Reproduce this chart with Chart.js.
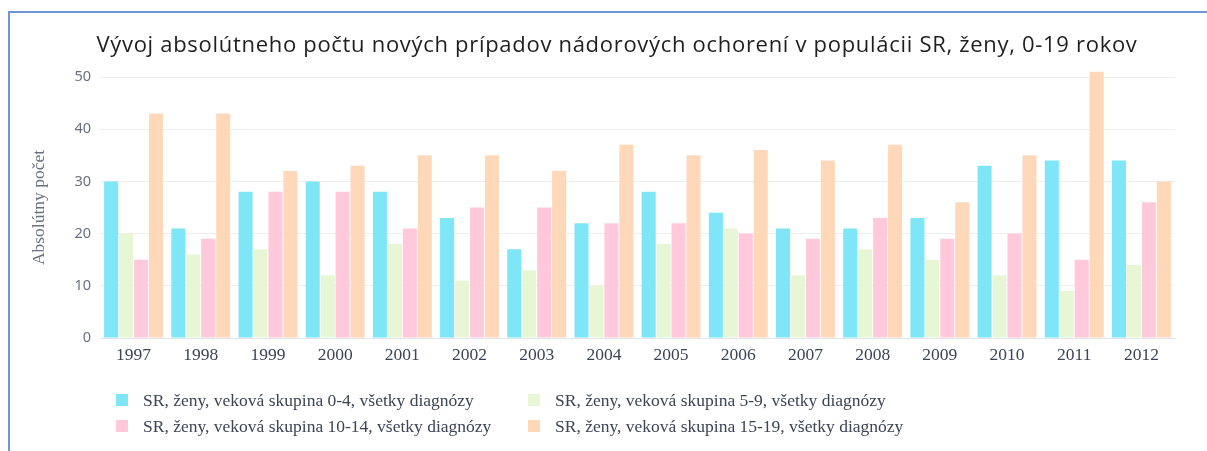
<!DOCTYPE html>
<html>
<head>
<meta charset="utf-8">
<script src="https://cdn.jsdelivr.net/npm/chart.js@4.4.1/dist/chart.umd.min.js"></script>
<style>
  html, body { margin: 0; padding: 0; background: #fff; }
  #wrap { position: relative; width: 1207px; height: 451px; overflow: hidden; }
  #frameTop { position: absolute; left: 8px; top: 11px; width: 1199px; height: 2px; background: #7196d8; }
  #frameLeft { position: absolute; left: 8px; top: 11px; width: 2px; height: 440px; background: #7196d8; }
  #title { position: absolute; left: 0; width: 1234px; top: 27px; text-align: center;
           font-family: "Open Sans", sans-serif; font-size: 22px; letter-spacing: 0.7px; color: #1f1f1f; line-height: 32px; white-space: nowrap; }
  #chart { position: absolute; left: 0; top: 0; }
  #legend { position: absolute; left: 0; top: 0; width: 1207px; height: 451px; pointer-events: none;
            font-family: "Liberation Serif", "Times New Roman", serif; font-size: 17.5px; color: #3c4456; }
  .li { position: absolute; white-space: nowrap; line-height: 20px; }
  .li .box { position: absolute; width: 12px; height: 12px; left: -27px; top: 4px; }
</style>
</head>
<body>
<div id="wrap">
  <canvas id="chart" width="1207" height="451"></canvas>
  <div id="title">Vývoj absolútneho počtu nových prípadov nádorových ochorení v populácii SR, ženy, 0-19 rokov</div>
  <div id="legend"></div>
  <div id="frameTop"></div>
  <div id="frameLeft"></div>
</div>
<script>
const years = ["1997","1998","1999","2000","2001","2002","2003","2004","2005","2006","2007","2008","2009","2010","2011","2012"];
const seriesNames = [
  "SR, ženy, veková skupina 0-4, všetky diagnózy",
  "SR, ženy, veková skupina 5-9, všetky diagnózy",
  "SR, ženy, veková skupina 10-14, všetky diagnózy",
  "SR, ženy, veková skupina 15-19, všetky diagnózy"
];
const age0_4   = [30, 21, 28, 30, 28, 23, 17, 22, 28, 24, 21, 21, 23, 33, 34, 34];
const age5_9   = [20, 16, 17, 12, 18, 11, 13, 10, 18, 21, 12, 17, 15, 12,  9, 14];
const age10_14 = [15, 19, 28, 28, 21, 25, 25, 22, 22, 20, 19, 23, 19, 20, 15, 26];
const age15_19 = [43, 43, 32, 33, 35, 35, 32, 37, 35, 36, 34, 37, 26, 35, 51, 30];
const yTicks = [0, 10, 20, 30, 40, 50];
const yTitle = "Absolútny počet";
const colors = ["#7ee6f7", "#e7f7d6", "#ffc9db", "#ffd8ba"];

const seriesValues = [age0_4, age5_9, age10_14, age15_19];
const datasets = seriesValues.map((vals, i) => ({
  label: seriesNames[i],
  data: vals,
  backgroundColor: colors[i],
  borderWidth: 0,
  categoryPercentage: 0.89,
  barPercentage: 0.94,
  clip: false
}));

const chart = new Chart(document.getElementById('chart'), {
  type: 'bar',
  data: { labels: years, datasets },
  options: {
    responsive: false,
    animation: false,
    layout: { padding: { left: 29, right: 32, top: 77, bottom: 0 } },
    plugins: { legend: { display: false }, title: { display: false }, tooltip: { enabled: false } },
    scales: {
      x: {
        grid: { display: false, drawTicks: false },
        border: { display: true, color: '#dfe3ec', width: 1 },
        ticks: { font: { family: '"Liberation Serif", serif', size: 17.5 }, color: '#3c4456', padding: 7, maxRotation: 0 },
        afterFit: (s) => { s.height = 113; }
      },
      y: {
        min: 0, max: 50,
        afterBuildTicks: (s) => { s.ticks = yTicks.map(v => ({ value: v })); },
        grid: { color: '#eeeeee', lineWidth: 1, drawTicks: false },
        border: { display: false },
        ticks: { font: { family: '"Noto Sans", sans-serif', size: 14.5 }, color: '#6a7080', padding: 9 },
        title: { display: true, text: yTitle, font: { family: '"Liberation Serif", serif', size: 17.5 }, color: '#6a7080', padding: { top: 0, bottom: 0 } },
        afterFit: (s) => { s.width = 71; }
      }
    }
  }
});

// HTML legend built from the chart's datasets
const legendPos = [[143, 390], [555, 390], [143, 416], [555, 416]];
const legend = document.getElementById('legend');
chart.data.datasets.forEach((ds, i) => {
  const d = document.createElement('div');
  d.className = 'li';
  d.style.left = legendPos[i][0] + 'px';
  d.style.top = legendPos[i][1] + 'px';
  const b = document.createElement('span');
  b.className = 'box';
  b.style.background = ds.backgroundColor;
  d.appendChild(b);
  d.appendChild(document.createTextNode(ds.label));
  legend.appendChild(d);
});
</script>
</body>
</html>
